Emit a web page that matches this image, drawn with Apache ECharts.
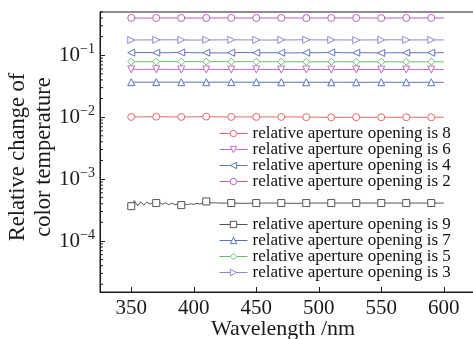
<!DOCTYPE html>
<html>
<head>
<meta charset="utf-8">
<script src="https://cdn.jsdelivr.net/npm/echarts@6/dist/echarts.min.js"></script>
<style>
  html, body { margin: 0; padding: 0; background: #fff; }
  #chart { width: 473px; height: 339px; }
</style>
</head>
<body>
<div id="chart"></div>
<script>
// Wavelength grid (nm) shared by the smooth curves
const wavelength = [350, 360, 370, 380, 390, 400, 410, 420, 430, 440, 450, 460, 470,
                    480, 490, 500, 510, 520, 530, 540, 550, 560, 570, 580, 590, 600];

// Finer sampling for the aperture-9 curve, which is noisy at short wavelengths
const wavelengthFine = [350, 352.5, 355, 357.5, 360, 362.5, 365, 367.5, 370, 372.5, 375, 377.5,
                        380, 382.5, 385, 387.5, 390, 392.5, 395, 397.5, 400, 402.5, 405, 407.5,
                        410, 412.5, 415, 417.5, 420, 430, 440, 450, 460, 470, 480, 490, 500,
                        510, 520, 530, 540, 550, 560, 570, 580, 590, 600];

// Relative change of colour temperature per relative aperture opening
const aperture2 = [0.401, 0.398, 0.400, 0.401, 0.400, 0.399, 0.400, 0.401, 0.400, 0.399, 0.400, 0.400, 0.401,
                   0.400, 0.399, 0.400, 0.400, 0.401, 0.400, 0.400, 0.399, 0.400, 0.401, 0.400, 0.400, 0.400];
const aperture3 = [0.176, 0.177, 0.177, 0.178, 0.177, 0.176, 0.177, 0.177, 0.178, 0.177, 0.177, 0.176, 0.177,
                   0.177, 0.178, 0.177, 0.177, 0.177, 0.176, 0.177, 0.177, 0.178, 0.177, 0.177, 0.177, 0.177];
const aperture4 = [0.110, 0.111, 0.110, 0.110, 0.111, 0.110, 0.110, 0.109, 0.110, 0.111, 0.110, 0.110, 0.110,
                   0.109, 0.110, 0.110, 0.111, 0.110, 0.110, 0.110, 0.109, 0.110, 0.110, 0.110, 0.110, 0.110];
const aperture5 = [0.0790, 0.0785, 0.0790, 0.0792, 0.0788, 0.0790, 0.0788, 0.0790, 0.0786, 0.0788, 0.0790, 0.0786, 0.0785,
                   0.0786, 0.0784, 0.0786, 0.0785, 0.0786, 0.0784, 0.0785, 0.0786, 0.0784, 0.0785, 0.0784, 0.0785, 0.0784];
const aperture6 = [0.0592, 0.0590, 0.0593, 0.0590, 0.0591, 0.0592, 0.0590, 0.0591, 0.0589, 0.0590, 0.0591, 0.0589, 0.0588,
                   0.0589, 0.0590, 0.0589, 0.0588, 0.0589, 0.0590, 0.0589, 0.0588, 0.0589, 0.0589, 0.0588, 0.0589, 0.0589];
const aperture7 = [0.0368, 0.0367, 0.0368, 0.0369, 0.0367, 0.0368, 0.0367, 0.0368, 0.0368, 0.0367, 0.0368, 0.0366, 0.0367,
                   0.0366, 0.0367, 0.0366, 0.0366, 0.0367, 0.0366, 0.0366, 0.0367, 0.0366, 0.0366, 0.0366, 0.0366, 0.0366];
const aperture8 = [0.0101, 0.0101, 0.0102, 0.0101, 0.0101, 0.0101, 0.0102, 0.0101, 0.0101, 0.0101, 0.0101, 0.0101, 0.0101,
                   0.0101, 0.0100, 0.0100, 0.00995, 0.00995, 0.00998, 0.00996, 0.00997, 0.00996, 0.00997, 0.00996, 0.00996, 0.00997];
const aperture9 = [3.65e-4, 4.5e-4, 3.7e-4, 4.3e-4, 3.8e-4, 4.25e-4, 3.95e-4, 4.2e-4, 4.1e-4, 4.2e-4, 3.9e-4, 4.15e-4,
                   3.85e-4, 4.1e-4, 3.85e-4, 4.0e-4, 3.8e-4, 3.95e-4, 3.85e-4, 4.0e-4, 3.9e-4, 4.05e-4, 3.95e-4, 4.15e-4,
                   4.35e-4, 4.2e-4, 4.1e-4, 4.15e-4, 4.1e-4, 4.1e-4, 4.05e-4, 4.1e-4, 4.1e-4, 4.1e-4, 4.05e-4, 4.1e-4, 4.1e-4,
                   4.1e-4, 4.1e-4, 4.1e-4, 4.1e-4, 4.1e-4, 4.1e-4, 4.1e-4, 4.1e-4, 4.1e-4, 4.1e-4];

// Axis tick labels
const xTicks = [350, 400, 450, 500, 550, 600];
const yDecades = [1e-4, 1e-3, 1e-2, 1e-1];

const serif = '"Liberation Serif", "DejaVu Serif", serif';
const ink = '#1a1a1a';

const curves = [
  { name: 'relative aperture opening is 8', x: wavelength, y: aperture8, color: '#e4686c', symbol: 'circle', rotate: 0 },
  { name: 'relative aperture opening is 6', x: wavelength, y: aperture6, color: '#c46cc8', symbol: 'triangle', rotate: 180 },
  { name: 'relative aperture opening is 4', x: wavelength, y: aperture4, color: '#6474be', symbol: 'triangle', rotate: 90 },
  { name: 'relative aperture opening is 2', x: wavelength, y: aperture2, color: '#b264b4', symbol: 'circle', rotate: 0 },
  { name: 'relative aperture opening is 9', x: wavelengthFine, y: aperture9, color: '#555555', symbol: 'rect', rotate: 0 },
  { name: 'relative aperture opening is 7', x: wavelength, y: aperture7, color: '#5a72c0', symbol: 'triangle', rotate: 0 },
  { name: 'relative aperture opening is 5', x: wavelength, y: aperture5, color: '#6cbf6c', symbol: 'path://M0,-1L1,0L0,1L-1,0Z', rotate: 0 },
  { name: 'relative aperture opening is 3', x: wavelength, y: aperture3, color: '#9a82d2', symbol: 'triangle', rotate: -90 }
];

// Markers sit every 20 nm from 350 to 590 nm
function markerSize(v) {
  return ((v[0] - 350) % 20 === 0 && v[0] <= 590) ? 7 : 0;
}

const lineSeries = curves.map(c => ({
  name: c.name,
  type: 'line',
  data: c.x.map((w, i) => [w, c.y[i]]),
  symbol: c.symbol,
  symbolRotate: c.rotate,
  symbolSize: markerSize,
  lineStyle: { color: c.color, width: 1 },
  itemStyle: { color: '#fff', borderColor: c.color, borderWidth: 1 },
  emphasis: { disabled: true },
  z: 3
}));

// Minor log ticks (2..9 within each decade), drawn inward from the y axis
const minorTicks = [];
[1e-5, 1e-4, 1e-3, 1e-2, 1e-1].forEach(d => {
  for (let k = 2; k <= 9; k++) {
    const v = k * d;
    if (v >= 1.5e-5 && v <= 0.5) minorTicks.push([400, v]);
  }
});

const minorTickSeries = {
  type: 'custom',
  silent: true,
  data: minorTicks,
  renderItem(params, api) {
    const y = api.coord([api.value(0), api.value(1)])[1];
    const x = params.coordSys.x;
    return {
      type: 'line',
      shape: { x1: x, y1: y, x2: x + 3, y2: y },
      style: { stroke: ink, lineWidth: 1 }
    };
  },
  z: 2
};

const legendBase = {
  orient: 'vertical',
  left: 219,
  itemWidth: 28,
  itemHeight: 8,
  itemGap: -1,
  padding: 0,
  textStyle: { fontFamily: serif, fontSize: 17, color: '#111', lineHeight: 16 },
  lineStyle: { width: 1 },
  itemStyle: { borderWidth: 1 },
  selectedMode: false
};

const chart = echarts.init(document.getElementById('chart'), null, { renderer: 'canvas' });
chart.setOption({
  animation: false,
  backgroundColor: '#fff',
  grid: {
    left: 100, right: -2, top: 12, bottom: 47,
    outerBoundsMode: 'none', containLabel: false,
    show: true, borderColor: ink, borderWidth: 1
  },
  legend: [
    Object.assign({}, legendBase, { top: 125, data: curves.slice(0, 4).map(c => c.name) }),
    Object.assign({}, legendBase, { top: 216, data: curves.slice(4).map(c => c.name) })
  ],
  xAxis: {
    type: 'value',
    min: 325,
    max: 625,
    name: 'Wavelength /nm',
    nameLocation: 'middle',
    nameGap: 26,
    nameMoveOverlap: false,
    nameTextStyle: { fontFamily: serif, fontSize: 22, color: ink, padding: [0, 9, 0, 0] },
    axisLine: { show: true, lineStyle: { color: ink, width: 1 } },
    axisTick: { show: true, inside: true, length: 5, lineStyle: { color: ink } },
    axisLabel: {
      fontFamily: serif, fontSize: 21, color: ink, margin: 6,
      showMinLabel: false, showMaxLabel: false,
      formatter: v => (xTicks.indexOf(v) >= 0 ? String(v) : '')
    },
    splitLine: { show: false }
  },
  yAxis: {
    type: 'log',
    logBase: 10,
    min: 1.5e-5,
    max: 0.5,
    name: 'Relative change of\ncolor temperature',
    nameLocation: 'middle',
    nameGap: 43,
    nameMoveOverlap: false,
    nameTextStyle: { fontFamily: serif, fontSize: 22.5, color: ink, lineHeight: 26, padding: [0, 10, 0, 0] },
    axisLine: { show: true, lineStyle: { color: ink, width: 1 } },
    axisTick: { show: true, inside: true, length: 5, lineStyle: { color: ink } },
    axisLabel: {
      margin: 5,
      showMinLabel: false, showMaxLabel: false,
      formatter: v => {
        const hit = yDecades.find(d => Math.abs(Math.log10(d) - Math.log10(v)) < 1e-6);
        if (hit === undefined) return '';
        const e = Math.round(Math.log10(hit));
        return '{b|10}{s|\u2212' + Math.abs(e) + '}';
      },
      rich: {
        b: { fontFamily: serif, fontSize: 21, color: ink },
        s: { fontFamily: serif, fontSize: 14, color: ink, padding: [0, 0, 12, 0] }
      }
    },
    splitLine: { show: false }
  },
  series: lineSeries.concat([minorTickSeries])
});
</script>
</body>
</html>
